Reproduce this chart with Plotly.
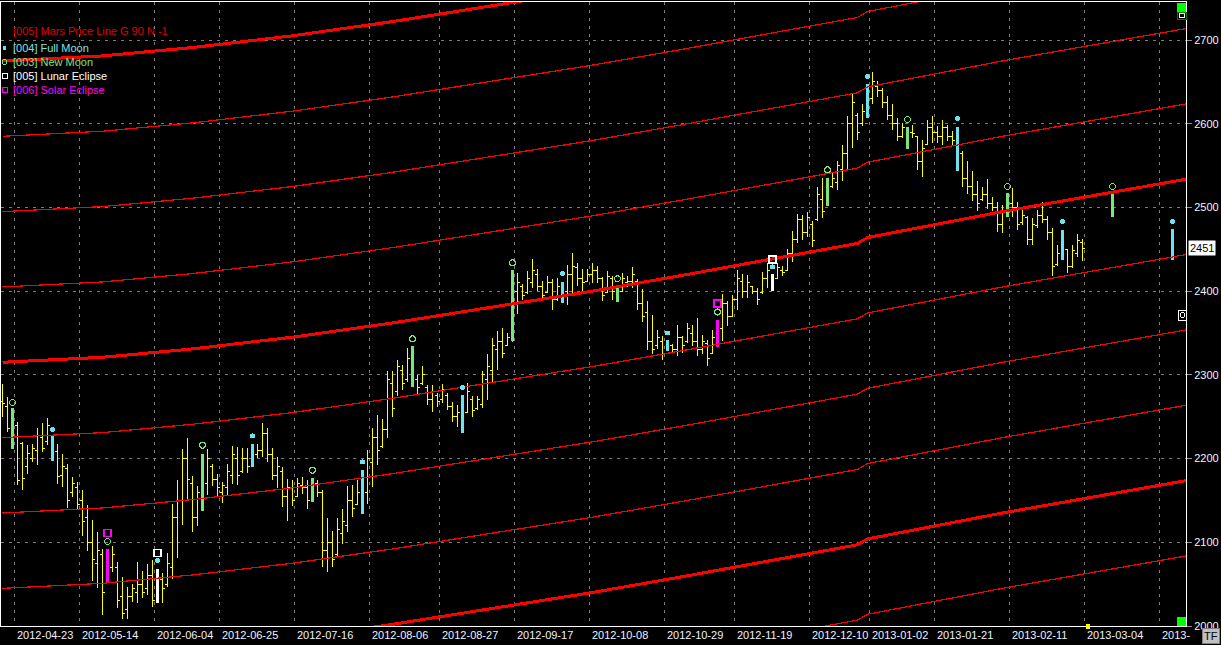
import plotly.graph_objects as go

# ---------------- data ----------------
opens = [2268,2262,2258,2240,2218,2190,2200,2210,2225,2220,
         2226,2208,2180,2188,2160,2165,2150,2130,2100,2075,
         2085,2055,2070,2070,2035,2020,2035,2040,2050,2045,
         2060,2040,2055,2050,2070,2130,2150,2200,2170,2130,
         2146,2170,2190,2175,2160,2165,2180,2200,2185,2200,
         2195,2205,2210,2230,2205,2180,2185,2155,2165,2155,
         2168,2165,2155,2170,2160,2090,2100,2085,2110,2120,
         2150,2145,2150,2160,2195,2225,2215,2235,2290,2280,
         2305,2295,2320,2295,2290,2285,2270,2275,2270,2275,
         2262,2250,2250,2255,2270,2260,2265,2295,2305,2330,
         2340,2335,2341,2400,2405,2398,2410,2420,2405,2398,
         2410,2390,2395,2400,2420,2428,2415,2412,2420,2425,
         2415,2398,2415,2405,2400,2410,2412,2412,2385,2375,
         2340,2335,2340,2330,2335,2330,2345,2340,2350,2340,
         2330,2338,2325,2338,2355,2385,2370,2390,2412,2400,
         2405,2400,2398,2415,2410,2415,2425,2425,2445,2462,
         2485,2470,2480,2485,2510,2505,2525,2530,2545,2565,
         2600,2610,2600,2610,2630,2645,2640,2625,2610,2600,
         2585,2585,2590,2585,2555,2575,2595,2590,2585,2595,
         2585,2580,2565,2535,2525,2515,2510,2515,2505,2500,
         2480,2492,2505,2500,2482,2488,2462,2478,2490,2485,
         2470,2432,2445,2450,2430,2445,2458]
highs = [2289,2273,2260,2244,2220,2216,2218,2236,2242,2249,
         2228,2218,2205,2194,2178,2172,2162,2145,2127,2112,
         2092,2092,2096,2076,2059,2047,2050,2076,2066,2074,
         2079,2068,2063,2087,2146,2175,2212,2224,2179,2167,
         2206,2212,2193,2181,2172,2194,2215,2214,2213,2213,
         2217,2217,2242,2236,2213,2202,2190,2176,2174,2177,
         2178,2175,2177,2175,2162,2129,2113,2129,2140,2167,
         2169,2174,2186,2210,2237,2252,2247,2305,2305,2318,
         2312,2332,2334,2300,2310,2288,2288,2278,2289,2278,
         2268,2264,2276,2290,2275,2275,2305,2325,2344,2352,
         2356,2350,2425,2422,2408,2424,2438,2427,2412,2418,
         2414,2416,2411,2431,2446,2434,2426,2426,2434,2430,
         2417,2424,2418,2407,2422,2418,2429,2414,2403,2388,
         2371,2354,2346,2342,2337,2360,2346,2362,2360,2368,
         2348,2342,2353,2366,2397,2388,2395,2425,2420,2419,
         2406,2404,2423,2434,2420,2434,2430,2450,2472,2492,
         2491,2495,2484,2525,2535,2535,2542,2555,2575,2609,
         2635,2613,2623,2647,2662,2651,2643,2633,2623,2607,
         2601,2596,2599,2585,2580,2605,2609,2597,2605,2598,
         2591,2596,2568,2556,2544,2532,2524,2534,2512,2506,
         2503,2517,2523,2506,2497,2490,2487,2497,2506,2490,
         2476,2455,2473,2450,2455,2468,2462]
lows = [2250,2232,2211,2168,2162,2182,2196,2192,2208,2216,
        2197,2170,2166,2141,2154,2140,2107,2090,2054,2045,
        2013,2051,2065,2022,2008,2008,2029,2028,2033,2037,
        2023,2028,2027,2047,2056,2081,2121,2152,2112,2119,
        2137,2157,2167,2155,2147,2157,2170,2169,2183,2183,
        2190,2201,2202,2196,2174,2165,2142,2125,2143,2154,
        2158,2140,2148,2154,2070,2065,2071,2082,2098,2112,
        2130,2145,2134,2146,2166,2192,2213,2225,2250,2275,
        2282,2292,2286,2276,2288,2264,2256,2262,2266,2258,
        2244,2238,2231,2254,2250,2258,2260,2270,2292,2306,
        2320,2334,2340,2373,2390,2396,2404,2400,2388,2398,
        2378,2388,2386,2384,2398,2406,2400,2412,2410,2410,
        2388,2398,2390,2387,2399,2405,2404,2378,2363,2330,
        2325,2331,2318,2329,2327,2322,2326,2338,2335,2323,
        2325,2310,2325,2333,2340,2358,2369,2378,2392,2392,
        2396,2383,2397,2404,2400,2414,2418,2425,2435,2458,
        2461,2465,2453,2484,2487,2502,2523,2521,2532,2546,
        2571,2581,2597,2607,2623,2632,2619,2604,2593,2579,
        2583,2570,2583,2545,2536,2575,2577,2577,2574,2579,
        2574,2544,2525,2516,2508,2496,2508,2498,2496,2471,
        2469,2489,2489,2473,2479,2455,2455,2475,2481,2461,
        2418,2430,2437,2422,2428,2441,2436]
closes = [2266,2236,2231,2174,2176,2206,2212,2228,2212,2240,
          2210,2178,2190,2150,2170,2145,2125,2100,2080,2090,
          2040,2070,2085,2030,2015,2035,2045,2050,2040,2060,
          2030,2060,2045,2075,2130,2150,2200,2175,2130,2160,
          2170,2200,2175,2165,2168,2185,2205,2180,2200,2190,
          2205,2210,2230,2205,2180,2190,2155,2165,2150,2170,
          2165,2150,2170,2160,2090,2100,2080,2115,2125,2150,
          2140,2160,2160,2200,2225,2210,2235,2295,2260,2310,
          2290,2320,2296,2285,2300,2270,2280,2268,2282,2262,
          2250,2255,2252,2280,2258,2270,2300,2310,2335,2340,
          2325,2345,2404,2410,2395,2415,2425,2405,2395,2410,
          2390,2405,2400,2420,2430,2415,2410,2420,2425,2415,
          2395,2418,2400,2393,2415,2412,2420,2385,2370,2340,
          2330,2345,2325,2335,2330,2345,2335,2355,2340,2330,
          2340,2320,2345,2355,2385,2370,2390,2415,2400,2410,
          2400,2390,2415,2425,2415,2428,2422,2445,2462,2485,
          2470,2488,2460,2515,2495,2525,2535,2550,2565,2600,
          2625,2590,2615,2630,2650,2640,2625,2610,2600,2585,
          2595,2590,2588,2555,2570,2595,2590,2585,2595,2585,
          2580,2565,2535,2525,2515,2505,2515,2505,2500,2480,
          2495,2508,2500,2480,2490,2462,2480,2490,2485,2470,
          2430,2445,2452,2430,2448,2460,2451]
bar_idx = list(range(len(closes)))

# projected (future) moon bars
proj_idx = [222, 234]
proj_open = [2490, 2440]
proj_high = [2517, 2474]
proj_low = [2489, 2437]
proj_close = [2508, 2455]

new_moon_bars = [2, 40, 62, 82, 102, 123, 165, 181, 201, 222]
full_moon_bars = [10, 50, 72, 92, 112, 133, 173, 191, 212, 234]
lunar_bars = [31, 154]
solar_bars = [21, 143]

new_moon_mark_idx = [2, 21, 40, 62, 82, 102, 123, 143, 165, 181, 201, 222]
new_moon_mark = [2267, 2101, 2216, 2186, 2343, 2434, 2415, 2375, 2545, 2605, 2525, 2525]
full_moon_mark_idx = [10, 31, 50, 72, 92, 112, 133, 154, 173, 191, 212, 234]
full_moon_mark = [2235, 2078, 2227, 2196, 2285, 2421, 2350, 2429, 2656, 2606, 2483, 2483]
lunar_mark = [2087, 2438]
solar_mark = [2111, 2385]

mars_idx = [0, 20, 38, 58, 78, 98, 118, 137, 156, 171, 173, 200, 237]
mars_base = [2315, 2321, 2331, 2345, 2362, 2381, 2400, 2420, 2441, 2457, 2464, 2495, 2534]
mars_step = 90
mars_levels = list(range(-5, 6))

date_idx = [3, 16, 31, 44, 59, 74, 88, 103, 118, 133, 147, 162, 174, 187, 202, 217, 232]
date_labels = ['2012-04-23', '2012-05-14', '2012-06-04', '2012-06-25', '2012-07-16',
               '2012-08-06', '2012-08-27', '2012-09-17', '2012-10-08', '2012-10-29',
               '2012-11-19', '2012-12-10', '2013-01-02', '2013-01-21', '2013-02-11',
               '2013-03-04', '2013-']
y_ticks = [2000, 2100, 2200, 2300, 2400, 2500, 2600, 2700]

# ---------------- styling ----------------
YELLOW = '#FFFF00'
GREEN = '#78E678'
CYAN = '#6CE4F0'
WHITE = '#FFFFFF'
MAGENTA = '#FF00FF'
RED = '#FF0000'
GRID = '#7a7a7a'
FONT = 'Liberation Sans, Arial, sans-serif'

W, H = 1221, 645
PL, PR, PT, PB = 1, 1186, 2, 626  # plot area in pixels


def px_x(x):
    return (x - PL) / (PR - PL)


def px_y(y):
    return (PB - y) / (PB - PT)


all_idx = bar_idx + proj_idx
all_o = opens + proj_open
all_h = highs + proj_high
all_l = lows + proj_low
all_c = closes + proj_close

fig = go.Figure()

# Mars price lines
for k in mars_levels:
    thick = (k % 4 == 0)
    fig.add_trace(go.Scatter(
        x=mars_idx, y=[b + k * mars_step for b in mars_base], mode='lines',
        line=dict(color=RED, width=3 if thick else 1.2), hoverinfo='skip'))

special = set(new_moon_bars + full_moon_bars + lunar_bars + solar_bars)


def ohlc_trace(idxs, color, width, tick_px):
    sel = [all_idx.index(i) for i in idxs]
    xs = [all_idx[s] for s in sel]
    diffs = [b - a for a, b in zip(xs[:-1], xs[1:])] or [1]
    tw = min(0.5, tick_px / (5.0 * min(diffs)))
    return go.Ohlc(
        x=xs, open=[all_o[s] for s in sel], high=[all_h[s] for s in sel],
        low=[all_l[s] for s in sel], close=[all_c[s] for s in sel],
        increasing=dict(line=dict(color=color, width=width)),
        decreasing=dict(line=dict(color=color, width=width)),
        tickwidth=tw, hoverinfo='skip')


plain = [i for i in bar_idx if i not in special]
fig.add_trace(ohlc_trace(plain, YELLOW, 1, 2.6))
fig.add_trace(ohlc_trace(new_moon_bars, GREEN, 3, 3.5))
fig.add_trace(ohlc_trace(full_moon_bars, CYAN, 3, 3.5))
fig.add_trace(ohlc_trace(lunar_bars, WHITE, 3, 3.5))
fig.add_trace(ohlc_trace(solar_bars, MAGENTA, 3, 3.5))

# moon markers
fig.add_trace(go.Scatter(x=new_moon_mark_idx, y=new_moon_mark, mode='markers',
                         marker=dict(symbol='circle-open', size=6, color=GREEN, line=dict(width=1.2)),
                         hoverinfo='skip'))
fig.add_trace(go.Scatter(x=full_moon_mark_idx, y=full_moon_mark, mode='markers',
                         marker=dict(symbol='circle', size=5, color=CYAN), hoverinfo='skip'))
fig.add_trace(go.Scatter(x=lunar_bars, y=lunar_mark, mode='markers',
                         marker=dict(symbol='square-open', size=7, color=WHITE, line=dict(width=1.5)),
                         hoverinfo='skip'))
fig.add_trace(go.Scatter(x=solar_bars, y=solar_mark, mode='markers',
                         marker=dict(symbol='square-open', size=7, color=MAGENTA, line=dict(width=1.5)),
                         hoverinfo='skip'))

GRID_OFF = -0.6
annotations = []
for i, lab in zip(date_idx, date_labels):
    annotations.append(dict(x=i + GRID_OFF, y=0, xref='x', yref='paper', text=lab,
                            xanchor='left', yanchor='top', yshift=-1, showarrow=False,
                            font=dict(family=FONT, size=11, color='#eef3ff')))

legend_items = [
    ('[005] Mars Price Line G 90 N -1', '#E00000', 31),
    ('[004] Full Moon', '#80E0E6', 48),
    ('[003] New Moon', '#80E080', 62),
    ('[005] Lunar Eclipse', '#FFFFFF', 76),
    ('[006] Solar Eclipse', '#FF00FF', 90),
]
for txt, col, yy in legend_items:
    annotations.append(dict(x=px_x(11), y=px_y(yy), xref='paper', yref='paper', text=txt,
                            xanchor='left', yanchor='middle', showarrow=False,
                            font=dict(family=FONT, size=11, color=col)))

# last price box
annotations.append(dict(x=1, y=closes[-1], xref='paper', yref='y', text=str(closes[-1]),
                        xanchor='left', yanchor='middle', xshift=2, showarrow=False,
                        bgcolor='#FFFFFF', borderpad=1,
                        font=dict(family=FONT, size=11, color='#000000')))
# TF button
annotations.append(dict(x=px_x(1211), y=px_y(636), xref='paper', yref='paper', text='TF',
                        xanchor='center', yanchor='middle', showarrow=False,
                        bgcolor='#C0C0C0', bordercolor='#808080', borderwidth=1, borderpad=1,
                        font=dict(family=FONT, size=11, color='#000000')))

shapes = [
    # legend symbols
    dict(type='circle', xref='paper', yref='paper', x0=px_x(3), x1=px_x(6), y0=px_y(49.5), y1=px_y(46.5),
         fillcolor=CYAN, line=dict(color=CYAN, width=1)),
    dict(type='circle', xref='paper', yref='paper', x0=px_x(2), x1=px_x(7), y0=px_y(64.5), y1=px_y(59.5),
         line=dict(color=GREEN, width=1)),
    dict(type='rect', xref='paper', yref='paper', x0=px_x(2), x1=px_x(7), y0=px_y(78.5), y1=px_y(73.5),
         line=dict(color=WHITE, width=1)),
    dict(type='rect', xref='paper', yref='paper', x0=px_x(2), x1=px_x(7), y0=px_y(92.5), y1=px_y(87.5),
         line=dict(color=MAGENTA, width=1)),
    # UI decorations on the right edge
    dict(type='rect', xref='paper', yref='paper', x0=px_x(1177), x1=px_x(1186), y0=px_y(12), y1=px_y(3),
         fillcolor='#00FF00', line=dict(width=0)),
    dict(type='rect', xref='paper', yref='paper', x0=px_x(1177), x1=px_x(1186), y0=px_y(19), y1=px_y(12),
         fillcolor='#000000', line=dict(color='#008000', width=1)),
    dict(type='rect', xref='paper', yref='paper', x0=px_x(1179.5), x1=px_x(1184), y0=px_y(17.5), y1=px_y(13.5),
         line=dict(color=WHITE, width=1)),
    dict(type='rect', xref='paper', yref='paper', x0=px_x(1177), x1=px_x(1186), y0=px_y(626), y1=px_y(617),
         fillcolor='#00FF00', line=dict(width=0)),
    dict(type='rect', xref='paper', yref='paper', x0=px_x(1085.5), x1=px_x(1090), y0=px_y(629), y1=px_y(624),
         fillcolor=YELLOW, line=dict(width=0)),
    dict(type='rect', xref='paper', yref='paper', x0=px_x(1178.5), x1=px_x(1186), y0=px_y(320), y1=px_y(310),
         fillcolor='#000000', line=dict(color=WHITE, width=1)),
    dict(type='circle', xref='paper', yref='paper', x0=px_x(1180), x1=px_x(1184.5), y0=px_y(317.5), y1=px_y(312.5),
         line=dict(color=WHITE, width=1)),
]

fig.update_layout(
    width=W, height=H,
    margin=dict(l=PL, r=W - PR, t=PT, b=H - PB),
    paper_bgcolor='#000000', plot_bgcolor='#000000',
    showlegend=False, hovermode=False,
    font=dict(family=FONT, size=11, color='#FFFFFF'),
    annotations=annotations, shapes=shapes,
    xaxis=dict(range=[-0.3, 236.7], tickvals=[i + GRID_OFF for i in date_idx], showticklabels=False,
               showgrid=True, gridcolor=GRID, griddash='3px,5px', gridwidth=1,
               zeroline=False, showline=True, linecolor='#FFFFFF', linewidth=1, mirror=True,
               ticks='', rangeslider=dict(visible=False), fixedrange=True),
    yaxis=dict(range=[2000, 2745.4], side='right', tickvals=y_ticks,
               ticktext=[str(v) for v in y_ticks],
               showgrid=True, gridcolor=GRID, griddash='3px,5px', gridwidth=1,
               zeroline=False, showline=True, linecolor='#FFFFFF', linewidth=1, mirror=True,
               ticks='outside', ticklen=5, tickcolor='#909090',
               tickfont=dict(family=FONT, size=11, color='#eef3ff'), fixedrange=True),
)

crisp_js = """
(function(){
  function crisp(){
    var svg = document.querySelector('.main-svg');
    if (svg) { svg.setAttribute('shape-rendering', 'crispEdges'); }
    document.querySelectorAll('.main-svg path').forEach(function(p){
      p.setAttribute('shape-rendering', 'crispEdges');
      p.style.shapeRendering = 'crispEdges';
    });
  }
  crisp();
  setTimeout(crisp, 0);
  setTimeout(crisp, 100);
  setTimeout(crisp, 400);
})();
document.body.style.margin='0';
document.body.style.overflow='hidden';
"""

fig.write_html("out.html", config={'displayModeBar': False}, post_script=crisp_js)
